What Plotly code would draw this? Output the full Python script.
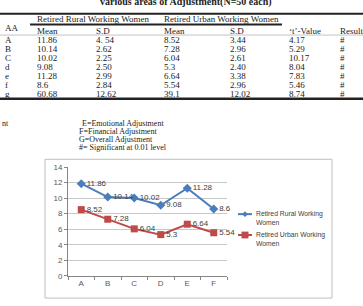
import plotly.graph_objects as go

W, H = 363, 306

# ---------------- data ----------------
row_labels = ["A", "B", "C", "d", "e", "f", "g"]
rural_mean = ["11.86", "10.14", "10.02", "9.08", "11.28", "8.6", "60.68"]
rural_sd = ["4. 54", "2.62", "2.25", "2.50", "2.99", "2.84", "12.62"]
urban_mean = ["8.52", "7.28", "6.04", "5.3", "6.64", "5.54", "39.1"]
urban_sd = ["3.44", "2.96", "2.61", "2.40", "3.38", "2.96", "12.02"]
t_values = ["4.17", "5.29", "10.17", "8.04", "7.83", "5.46", "8.74"]
results = ["#", "#", "#", "#", "#", "#", "#"]

chart_categories = ["A", "B", "C", "D", "E", "F"]
chart_rural = [11.86, 10.14, 10.02, 9.08, 11.28, 8.6]
chart_urban = [8.52, 7.28, 6.04, 5.3, 6.64, 5.54]
series_names = ["Retired Rural Working<br>Women", "Retired Urban Working<br>Women"]

notes = ["E=Emotional Adjustment", "F=Financial Adjustment",
         "G=Overall Adjustment", "#= Significant at 0.01 level"]


def px(x):
    return x / W


def py(y):
    return 1 - y / H


SERIF = "Liberation Serif"
SANS = "Liberation Sans"
BLUE = "#4A7EBB"
RED = "#BE4B48"

fig = go.Figure()

fig.add_trace(go.Scatter(
    x=chart_categories, y=chart_rural, mode="lines+markers+text",
    line=dict(color=BLUE, width=2),
    marker=dict(symbol="diamond", size=7, color=BLUE),
    text=[str(v) for v in chart_rural], textposition="middle right",
    textfont=dict(family=SANS, size=8, color="#404040"),
    cliponaxis=False, showlegend=False, name=series_names[0]))
fig.add_trace(go.Scatter(
    x=chart_categories, y=chart_urban, mode="lines+markers+text",
    line=dict(color=RED, width=2),
    marker=dict(symbol="square", size=7, color=RED),
    text=[str(v) for v in chart_urban], textposition="middle right",
    textfont=dict(family=SANS, size=8, color="#404040"),
    cliponaxis=False, showlegend=False, name=series_names[1]))

annotations = []
shapes = []


def txt(x, y, s, size=9, family=SERIF, bold=False, color="#222222", xanchor="left", yanchor="middle"):
    if bold:
        s = "<b>" + s + "</b>"
    annotations.append(dict(x=px(x), y=py(y), xref="paper", yref="paper", text=s,
                            showarrow=False, xanchor=xanchor, yanchor=yanchor,
                            font=dict(family=family, size=size, color=color)))


def hline(x0, x1, y, width=1, color="#222222"):
    shapes.append(dict(type="line", xref="paper", yref="paper",
                       x0=px(x0), x1=px(x1), y0=py(y), y1=py(y),
                       line=dict(color=color, width=width)))


# title (cut at top)
txt(186, 6.5, "various areas of Adjustment(N=50 each)", size=10, bold=True, xanchor="center", yanchor="bottom")

# table lines
hline(0, 363, 10, 2)
hline(30, 282, 21, 2)
hline(0, 363, 32, 0.6, "#999999")
hline(0, 363, 97.5, 2.5)

# table headers
txt(35, 15.5, "Retired Rural Working Women")
txt(162, 15.5, "Retired Urban Working Women")
txt(3, 25, "AA")
col_x = [3, 35, 94, 162, 228, 287, 338]
sub = ["Mean", "S.D", "Mean", "S.D", "\u2018t\u2019-Value", "Result/s"]
for cx, s in zip(col_x[1:], sub):
    txt(cx, 27.8, s)

cols = [row_labels, rural_mean, rural_sd, urban_mean, urban_sd, t_values, results]
for i in range(len(row_labels)):
    yy = 36.6 + i * 9.3
    for cx, col in zip(col_x, cols):
        txt(cx, yy, col[i])

# notes
txt(0, 123, "nt", size=8)
for i, n in enumerate(notes):
    txt(80 if i == 0 else 77, 123 + i * 8.2, n, size=8)

# chart border
shapes.append(dict(type="rect", xref="paper", yref="paper",
                   x0=px(45), x1=px(332), y0=py(303), y1=py(160),
                   line=dict(color="#BFBFBF", width=1)))

# custom legend
for k, (yy, col, sym) in enumerate([(216.5, BLUE, "diamond"), (238, RED, "square")]):
    hline(238, 252, yy, 2, col)
    if sym == "square":
        shapes.append(dict(type="rect", xref="paper", yref="paper",
                           x0=px(241.5), x1=px(248.5), y0=py(yy + 3.5), y1=py(yy - 3.5),
                           fillcolor=col, line=dict(width=0)))
    else:
        path = "M {} {} L {} {} L {} {} L {} {} Z".format(
            px(245), py(yy - 3), px(248), py(yy), px(245), py(yy + 3), px(242), py(yy))
        shapes.append(dict(type="path", xref="paper", yref="paper", path=path,
                           fillcolor=col, line=dict(width=0)))
    first, second = series_names[k].split("<br>")
    txt(254, yy, first, size=6.8, family=SANS, color="#404040")
    txt(254, yy + 9, second, size=6.8, family=SANS, color="#404040")

fig.update_layout(
    width=W, height=H, margin=dict(l=0, r=0, t=0, b=0),
    paper_bgcolor="white", plot_bgcolor="white",
    annotations=annotations, shapes=shapes,
    xaxis=dict(domain=[px(68), px(227)], type="category", range=[-0.5, 5.5],
               showline=True, linecolor="#868686", linewidth=1,
               ticks="outside", tickson="boundaries", ticklen=3, tickcolor="#868686",
               showgrid=False, tickfont=dict(family=SANS, size=8, color="#595959")),
    yaxis=dict(domain=[py(280), py(168)], range=[0, 14], dtick=2,
               showline=True, linecolor="#868686", linewidth=1,
               ticks="outside", ticklen=3, tickcolor="#868686",
               showgrid=True, gridcolor="#C8C8C8", gridwidth=1, zeroline=False,
               tickfont=dict(family=SANS, size=8, color="#595959")),
)

fig.write_html("out.html")
